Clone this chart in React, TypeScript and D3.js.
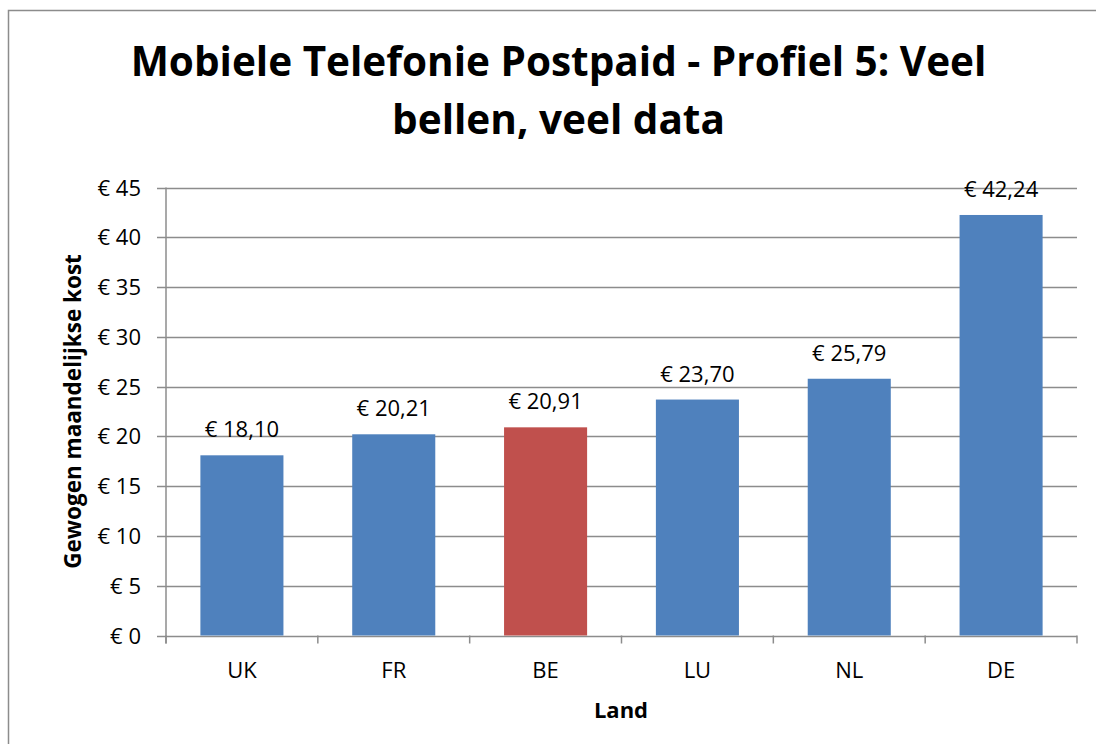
import { scaleBand, scaleLinear, range } from "d3";

const countries = ["UK", "FR", "BE", "LU", "NL", "DE"];
const costs = [18.1, 20.21, 20.91, 23.7, 25.79, 42.24];
const highlight = ["BE"];
const yTicks = [0, 5, 10, 15, 20, 25, 30, 35, 40, 45];
const titleLines = ["Mobiele Telefonie Postpaid - Profiel 5: Veel", "bellen, veel data"];
const yTitle = "Gewogen maandelijkse kost";
const xTitle = "Land";

const W = 1096;
const H = 744;
const left = 166;
const right = 1077;
const top = 187.5;
const bottom = 635.5;
const font = "'Open Sans', Lato, sans-serif";
const gridColor = "#8c8c8c";

const euro = (v: number) => "€ " + v.toFixed(2).replace(".", ",");

export default function App() {
  const x = scaleBand<string>().domain(countries).range([left, right]).paddingInner(0.453).paddingOuter(0.2265);
  const y = scaleLinear().domain([0, 45]).range([bottom, top]);
  const step = (right - left) / countries.length;

  return (
    <svg
      width={W}
      height={H}
      style={{ position: "absolute", left: 0, top: 0, background: "#fff" }}
      fontFamily={font}
    >
      <rect x={8.5} y={10.5} width={1100} height={760} fill="#fff" stroke={gridColor} strokeWidth={1.5} />

      {titleLines.map((t, i) => (
        <text key={i} x={558.5} y={76 + i * 58} textAnchor="middle" fontSize={40.5} fontWeight="bold" fill="#000">
          {t}
        </text>
      ))}

      {/* gridlines + y ticks */}
      {yTicks.map((t) => (
        <g key={t}>
          <line x1={157} x2={right} y1={Math.round(y(t)) + 0.5} y2={Math.round(y(t)) + 0.5} stroke={gridColor} strokeWidth={1.5} />
          <text x={141} y={y(t) + 8} textAnchor="end" fontSize={22} fill="#000">
            € {t}
          </text>
        </g>
      ))}

      {/* category ticks */}
      {range(countries.length + 1).map((i) => (
        <line key={i} x1={left + i * step} x2={left + i * step} y1={bottom} y2={bottom + 8} stroke={gridColor} strokeWidth={1.5} />
      ))}
      <line x1={left} x2={left} y1={top} y2={bottom + 8} stroke={gridColor} strokeWidth={1.5} />

      {countries.map((c, i) => (
        <g key={c}>
          <rect
            x={x(c)}
            y={y(costs[i])}
            width={x.bandwidth()}
            height={bottom - y(costs[i])}
            fill={highlight.includes(c) ? "#C0504D" : "#4F81BD"}
          />
          <text x={(x(c) ?? 0) + x.bandwidth() / 2} y={y(costs[i]) - 18} textAnchor="middle" fontSize={22} fill="#000">
            {euro(costs[i])}
          </text>
          <text x={(x(c) ?? 0) + x.bandwidth() / 2} y={678} textAnchor="middle" fontSize={22} fill="#000">
            {c}
          </text>
        </g>
      ))}

      <text x={621} y={718} textAnchor="middle" fontSize={22} fontWeight="bold" fill="#000">
        {xTitle}
      </text>
      <text
        transform={`translate(81, ${(top + bottom) / 2}) rotate(-90)`}
        textAnchor="middle"
        fontSize={22.5}
        fontWeight="bold"
        fill="#000"
      >
        {yTitle}
      </text>
    </svg>
  );
}
